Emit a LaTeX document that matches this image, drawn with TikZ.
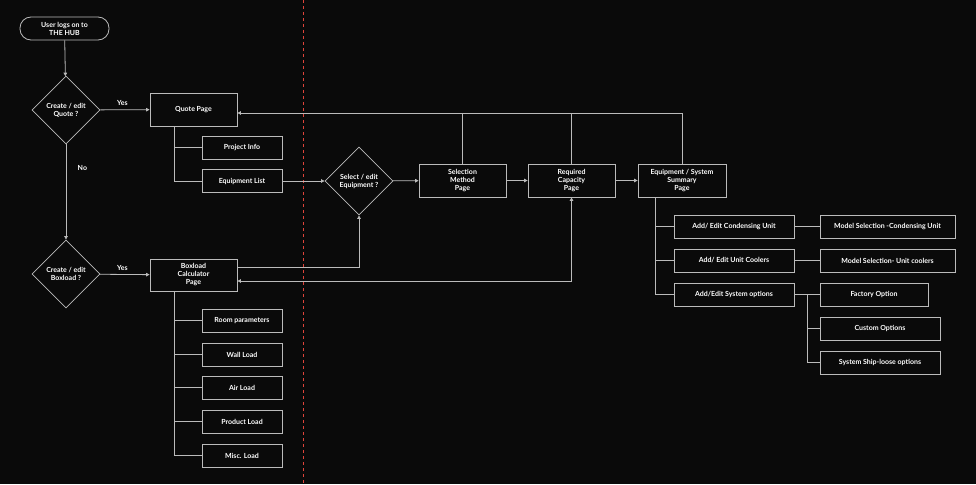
\documentclass[tikz,border=0pt]{standalone}
\usepackage{fontspec}
\setmainfont{Lato}
\usetikzlibrary{shapes.geometric,arrows.meta}
\begin{document}
\begin{tikzpicture}[x=1pt,y=-1pt,
  ln/.style={draw=lc,line width=0.8pt},
  ar/.style={ln,-{Triangle[length=3.5pt,width=3.5pt]}},
  bx/.style={ln,rectangle,inner sep=0pt,font=\bfseries\fontsize{7}{8}\selectfont,text=white,align=center},
  dm/.style={ln,diamond,minimum width=68pt,minimum height=68pt,inner sep=0pt,font=\bfseries\fontsize{7}{8}\selectfont,text=white,align=center},
  lb/.style={font=\bfseries\fontsize{7}{8}\selectfont,text=white}]
\definecolor{lc}{HTML}{BBBBBB}
\definecolor{rd}{HTML}{E0443A}
\fill[black!96] (0,0) rectangle (976,484);
\useasboundingbox (0,0) rectangle (976,484);
\draw[rd,line width=1pt,dash pattern=on 3pt off 3pt] (303,0) -- (303,484);
\node[bx,rounded corners=11pt,minimum width=89pt,minimum height=23pt] (hub) at (64.5,28.5) {User logs on to\\THE HUB};
\node[dm] (dq) at (66,110) {Create / edit\\Quote ?};
\node[dm] (db) at (66,274) {Create / edit\\Boxload ?};
\node[dm] (ds) at (359,181) {Select / edit\\Equipment ?};
\node[bx,minimum width=87pt,minimum height=33pt] (qp) at (193.5,109.5) {Quote Page};
\node[bx,minimum width=80pt,minimum height=23pt] (pi) at (242,147.5) {Project Info};
\node[bx,minimum width=80pt,minimum height=23pt] (el) at (242,181) {Equipment List};
\node[bx,minimum width=87pt,minimum height=33pt] (sm) at (462.5,180.5) {Selection\\Method\\Page};
\node[bx,minimum width=87pt,minimum height=33pt] (rc) at (571.5,180.5) {Required\\Capacity\\Page};
\node[bx,minimum width=88pt,minimum height=33pt] (ss) at (682,180.5) {Equipment / System\\Summary\\Page};
\node[bx,minimum width=87pt,minimum height=32pt] (bc) at (193.5,275) {Boxload\\Calculator\\Page};
\foreach \n/\y/\t in {rp/320.5/Room parameters,wl/354.5/Wall Load,al/387.5/Air Load,pl/421.5/Product Load,ml/455.5/Misc. Load}
  {\node[bx,minimum width=80pt,minimum height=23pt] (\n) at (242,\y) {\t};
   \draw[ln] (174,\y) -- (\n.west);}
\draw[ln] (174,291) -- (174,455.5);
\foreach \n/\y/\t in {ac/226.5/{Add/ Edit Condensing Unit},au/260.5/{Add/ Edit Unit Coolers},ao/294.5/{Add/Edit System options}}
  {\node[bx,minimum width=120pt,minimum height=23pt] (\n) at (734,\y) {\t};
   \draw[ln] (655,\y) -- (\n.west);}
\draw[ln] (655,197) -- (655,294.5);
\node[bx,minimum width=135pt,minimum height=23pt] (mc) at (887.5,226.5) {Model Selection -Condensing Unit};
\node[bx,minimum width=135pt,minimum height=23pt] (mu) at (887.5,260.5) {Model Selection- Unit coolers};
\node[bx,minimum width=108pt,minimum height=23pt] (fo) at (874,294.5) {Factory Option};
\node[bx,minimum width=120pt,minimum height=23pt] (co) at (880,328.5) {Custom Options};
\node[bx,minimum width=120pt,minimum height=23pt] (so) at (880,362.5) {System Ship-loose options};
\draw[ln] (ac) -- (mc); \draw[ln] (au) -- (mu); \draw[ln] (ao) -- (fo);
\draw[ln] (807,294.5) -- (807,362.5);
\draw[ln] (807,328.5) -- (co.west); \draw[ln] (807,362.5) -- (so.west);
% quote spine
\draw[ln] (174,126) -- (174,181);
\draw[ln] (174,147.5) -- (pi.west); \draw[ln] (174,181) -- (el.west);
% main flow
\draw[ar] (hub) -- (dq);
\draw[ar] (dq) -- node[lb,above,pos=0.45]{Yes} (qp);
\draw[ar] (dq) -- node[lb,right,pos=0.25,xshift=8pt]{No} (db);
\draw[ar] (db) -- node[lb,above,pos=0.45]{Yes} (bc);
\draw[ar] (el) -- (ds);
\draw[ar] (ds) -- (sm);
\draw[ar] (sm) -- (rc);
\draw[ar] (rc) -- (ss);
\draw[ar] (ss.north) -- (682,113) -- (qp.east |- 0,113);
\draw[ln] (sm.north) -- (462.5,113);
\draw[ln] (rc.north) -- (571.5,113);
\draw[ar] (bc.east |- 0,267) -- (359,267) -- (ds.south);
\draw[ar] (571.5,281) -- (rc.south);
\draw[ar] (571.5,281) -- (bc.east |- 0,281);
\end{tikzpicture}
\end{document}
